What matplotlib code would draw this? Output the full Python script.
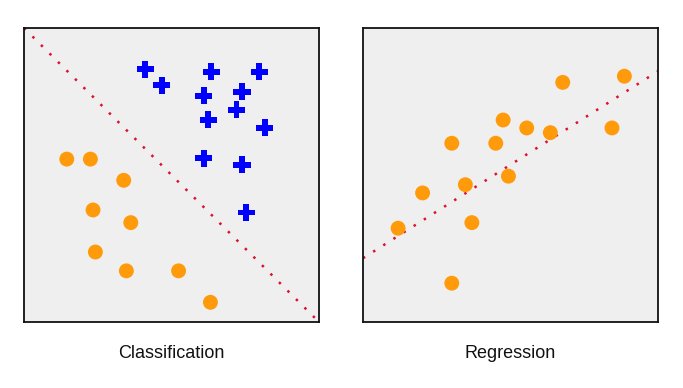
import matplotlib
matplotlib.use("Agg")
import matplotlib.pyplot as plt

# Classification data (axis units 0-100)
plus_x = [41.1, 46.7, 63.5, 79.7, 61.0, 73.9, 72.0, 62.4, 81.6, 61.0, 73.9, 75.3]
plus_y = [86.0, 80.5, 85.1, 85.1, 76.9, 78.3, 72.2, 68.8, 66.1, 55.7, 53.5, 37.2]
circ_x = [14.5, 22.5, 33.8, 23.4, 36.2, 24.2, 34.7, 52.4, 63.2]
circ_y = [55.4, 55.4, 48.2, 38.1, 33.8, 23.8, 17.4, 17.4, 6.7]
boundary_x = [0, 100]
boundary_y = [100, 0]

# Regression data
reg_x = [67.7, 88.6, 47.5, 55.5, 63.5, 84.4, 30.1, 45.0, 34.7, 49.3, 20.2, 11.9, 36.9, 30.1]
reg_y = [81.5, 83.6, 68.7, 66.0, 64.4, 66.0, 60.8, 60.8, 46.7, 49.6, 43.9, 31.9, 33.8, 13.2]
fit_x = [0, 100]
fit_y = [21.7, 85.3]

titles = ["Classification", "Regression"]

W, H = 683, 388
fig = plt.figure(figsize=(W / 100, H / 100), dpi=100)
fig.patch.set_facecolor("white")

ORANGE = "#ff9a0a"
BLUE = "#0000ff"
RED = "#dc1030"
BG = "#efefef"


def make_ax(x0, x1):
    ax = fig.add_axes([x0 / W, 1 - 322 / H, (x1 - x0) / W, (322 - 28) / H])
    ax.set_facecolor(BG)
    ax.set_xlim(0, 100)
    ax.set_ylim(0, 100)
    ax.set_xticks([])
    ax.set_yticks([])
    for s in ax.spines.values():
        s.set_linewidth(1.3)
        s.set_color("#111111")
    return ax


LS = (0, (1, 3.8))

ax1 = make_ax(24, 319)
ax1.plot(boundary_x, boundary_y, color=RED, lw=1.8, linestyle=LS,
         dash_capstyle="butt", zorder=1)
ax1.scatter(circ_x, circ_y, s=115, color=ORANGE, edgecolors="none", zorder=3)
ax1.scatter(plus_x, plus_y, s=150, marker="P", color=BLUE, edgecolors="none", zorder=3)

ax2 = make_ax(363, 658)
ax2.plot(fit_x, fit_y, color=RED, lw=1.8, linestyle=LS,
         dash_capstyle="butt", zorder=1)
ax2.scatter(reg_x, reg_y, s=115, color=ORANGE, edgecolors="none", zorder=3)

for cx, t in zip([171.5, 510.5], titles):
    fig.text(cx / W, 1 - 354 / H, t, ha="center", va="center",
             fontsize=13, family=["Liberation Sans", "DejaVu Sans"], color="#111111")

fig.savefig("out.png", dpi=100)
